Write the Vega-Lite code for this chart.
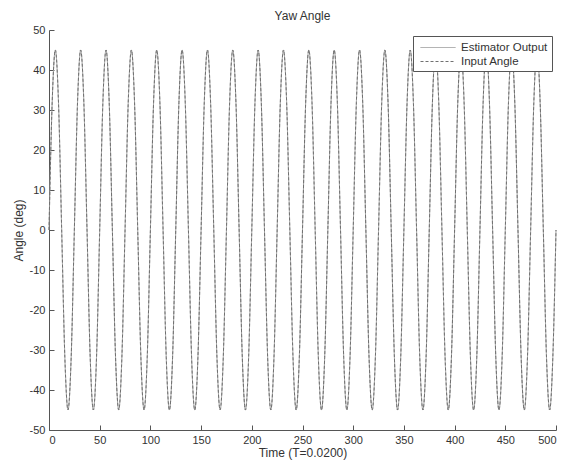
{
  "$schema": "https://vega.github.io/schema/vega-lite/v6.json",
  "width": 507,
  "height": 400,
  "autosize": {"type": "none"},
  "padding": {"left": 49, "top": 30, "right": 10, "bottom": 33},
  "background": "white",
  "title": {"text": "Yaw Angle", "fontSize": 12, "font": "Liberation Sans", "fontWeight": "normal", "color": "#333", "offset": 1, "anchor": "middle"},
  "data": {"values": [
    {"t":0,"e":0,"i":0},{"t":3.125,"e":31.82,"i":31.82},{"t":6.25,"e":45,"i":45},{"t":9.375,"e":31.82,"i":31.82},{"t":12.5,"e":0,"i":0},{"t":15.625,"e":-31.82,"i":-31.82},{"t":18.75,"e":-45,"i":-45},{"t":21.875,"e":-31.82,"i":-31.82},
    {"t":25,"e":0,"i":0},{"t":28.125,"e":31.82,"i":31.82},{"t":31.25,"e":45,"i":45},{"t":34.375,"e":31.82,"i":31.82},{"t":37.5,"e":0,"i":0},{"t":40.625,"e":-31.82,"i":-31.82},{"t":43.75,"e":-45,"i":-45},{"t":46.875,"e":-31.82,"i":-31.82},
    {"t":50,"e":0,"i":0},{"t":53.125,"e":31.82,"i":31.82},{"t":56.25,"e":45,"i":45},{"t":59.375,"e":31.82,"i":31.82},{"t":62.5,"e":0,"i":0},{"t":65.625,"e":-31.82,"i":-31.82},{"t":68.75,"e":-45,"i":-45},{"t":71.875,"e":-31.82,"i":-31.82},
    {"t":75,"e":0,"i":0},{"t":78.125,"e":31.82,"i":31.82},{"t":81.25,"e":45,"i":45},{"t":84.375,"e":31.82,"i":31.82},{"t":87.5,"e":0,"i":0},{"t":90.625,"e":-31.82,"i":-31.82},{"t":93.75,"e":-45,"i":-45},{"t":96.875,"e":-31.82,"i":-31.82},
    {"t":100,"e":0,"i":0},{"t":103.125,"e":31.82,"i":31.82},{"t":106.25,"e":45,"i":45},{"t":109.375,"e":31.82,"i":31.82},{"t":112.5,"e":0,"i":0},{"t":115.625,"e":-31.82,"i":-31.82},{"t":118.75,"e":-45,"i":-45},{"t":121.875,"e":-31.82,"i":-31.82},
    {"t":125,"e":0,"i":0},{"t":128.125,"e":31.82,"i":31.82},{"t":131.25,"e":45,"i":45},{"t":134.375,"e":31.82,"i":31.82},{"t":137.5,"e":0,"i":0},{"t":140.625,"e":-31.82,"i":-31.82},{"t":143.75,"e":-45,"i":-45},{"t":146.875,"e":-31.82,"i":-31.82},
    {"t":150,"e":0,"i":0},{"t":153.125,"e":31.82,"i":31.82},{"t":156.25,"e":45,"i":45},{"t":159.375,"e":31.82,"i":31.82},{"t":162.5,"e":0,"i":0},{"t":165.625,"e":-31.82,"i":-31.82},{"t":168.75,"e":-45,"i":-45},{"t":171.875,"e":-31.82,"i":-31.82},
    {"t":175,"e":0,"i":0},{"t":178.125,"e":31.82,"i":31.82},{"t":181.25,"e":45,"i":45},{"t":184.375,"e":31.82,"i":31.82},{"t":187.5,"e":0,"i":0},{"t":190.625,"e":-31.82,"i":-31.82},{"t":193.75,"e":-45,"i":-45},{"t":196.875,"e":-31.82,"i":-31.82},
    {"t":200,"e":0,"i":0},{"t":203.125,"e":31.82,"i":31.82},{"t":206.25,"e":45,"i":45},{"t":209.375,"e":31.82,"i":31.82},{"t":212.5,"e":0,"i":0},{"t":215.625,"e":-31.82,"i":-31.82},{"t":218.75,"e":-45,"i":-45},{"t":221.875,"e":-31.82,"i":-31.82},
    {"t":225,"e":0,"i":0},{"t":228.125,"e":31.82,"i":31.82},{"t":231.25,"e":45,"i":45},{"t":234.375,"e":31.82,"i":31.82},{"t":237.5,"e":0,"i":0},{"t":240.625,"e":-31.82,"i":-31.82},{"t":243.75,"e":-45,"i":-45},{"t":246.875,"e":-31.82,"i":-31.82},
    {"t":250,"e":0,"i":0},{"t":253.125,"e":31.82,"i":31.82},{"t":256.25,"e":45,"i":45},{"t":259.375,"e":31.82,"i":31.82},{"t":262.5,"e":0,"i":0},{"t":265.625,"e":-31.82,"i":-31.82},{"t":268.75,"e":-45,"i":-45},{"t":271.875,"e":-31.82,"i":-31.82},
    {"t":275,"e":0,"i":0},{"t":278.125,"e":31.82,"i":31.82},{"t":281.25,"e":45,"i":45},{"t":284.375,"e":31.82,"i":31.82},{"t":287.5,"e":0,"i":0},{"t":290.625,"e":-31.82,"i":-31.82},{"t":293.75,"e":-45,"i":-45},{"t":296.875,"e":-31.82,"i":-31.82},
    {"t":300,"e":0,"i":0},{"t":303.125,"e":31.82,"i":31.82},{"t":306.25,"e":45,"i":45},{"t":309.375,"e":31.82,"i":31.82},{"t":312.5,"e":0,"i":0},{"t":315.625,"e":-31.82,"i":-31.82},{"t":318.75,"e":-45,"i":-45},{"t":321.875,"e":-31.82,"i":-31.82},
    {"t":325,"e":0,"i":0},{"t":328.125,"e":31.82,"i":31.82},{"t":331.25,"e":45,"i":45},{"t":334.375,"e":31.82,"i":31.82},{"t":337.5,"e":0,"i":0},{"t":340.625,"e":-31.82,"i":-31.82},{"t":343.75,"e":-45,"i":-45},{"t":346.875,"e":-31.82,"i":-31.82},
    {"t":350,"e":0,"i":0},{"t":353.125,"e":31.82,"i":31.82},{"t":356.25,"e":45,"i":45},{"t":359.375,"e":31.82,"i":31.82},{"t":362.5,"e":0,"i":0},{"t":365.625,"e":-31.82,"i":-31.82},{"t":368.75,"e":-45,"i":-45},{"t":371.875,"e":-31.82,"i":-31.82},
    {"t":375,"e":0,"i":0},{"t":378.125,"e":31.82,"i":31.82},{"t":381.25,"e":45,"i":45},{"t":384.375,"e":31.82,"i":31.82},{"t":387.5,"e":0,"i":0},{"t":390.625,"e":-31.82,"i":-31.82},{"t":393.75,"e":-45,"i":-45},{"t":396.875,"e":-31.82,"i":-31.82},
    {"t":400,"e":0,"i":0},{"t":403.125,"e":31.82,"i":31.82},{"t":406.25,"e":45,"i":45},{"t":409.375,"e":31.82,"i":31.82},{"t":412.5,"e":0,"i":0},{"t":415.625,"e":-31.82,"i":-31.82},{"t":418.75,"e":-45,"i":-45},{"t":421.875,"e":-31.82,"i":-31.82},
    {"t":425,"e":0,"i":0},{"t":428.125,"e":31.82,"i":31.82},{"t":431.25,"e":45,"i":45},{"t":434.375,"e":31.82,"i":31.82},{"t":437.5,"e":0,"i":0},{"t":440.625,"e":-31.82,"i":-31.82},{"t":443.75,"e":-45,"i":-45},{"t":446.875,"e":-31.82,"i":-31.82},
    {"t":450,"e":0,"i":0},{"t":453.125,"e":31.82,"i":31.82},{"t":456.25,"e":45,"i":45},{"t":459.375,"e":31.82,"i":31.82},{"t":462.5,"e":0,"i":0},{"t":465.625,"e":-31.82,"i":-31.82},{"t":468.75,"e":-45,"i":-45},{"t":471.875,"e":-31.82,"i":-31.82},
    {"t":475,"e":0,"i":0},{"t":478.125,"e":31.82,"i":31.82},{"t":481.25,"e":45,"i":45},{"t":484.375,"e":31.82,"i":31.82},{"t":487.5,"e":0,"i":0},{"t":490.625,"e":-31.82,"i":-31.82},{"t":493.75,"e":-45,"i":-45},{"t":496.875,"e":-31.82,"i":-31.82},
    {"t":500,"e":0,"i":0}
  ]},
  "transform": [{"fold": ["e", "i"], "as": ["series", "angle"]}],
  "mark": {"type": "line", "strokeWidth": 1, "interpolate": "monotone"},
  "encoding": {
    "x": {"field": "t", "type": "quantitative", "scale": {"domain": [0, 500], "nice": false},
      "axis": {"values": [0,50,100,150,200,250,300,350,400,450,500], "title": "Time (T=0.0200)", "titlePadding": 2, "labelExpr": "toString(datum.value)"}},
    "y": {"field": "angle", "type": "quantitative", "scale": {"domain": [-50, 50], "nice": false},
      "axis": {"values": [-50,-40,-30,-20,-10,0,10,20,30,40,50], "title": "Angle (deg)", "titlePadding": 4, "labelExpr": "toString(datum.value)"}},
    "color": {"field": "series", "type": "nominal", "scale": {"domain": ["e", "i"], "range": ["#9a9a9a", "#707070"]}, "legend": {"labelExpr": "datum.label == 'e' ? 'Estimator Output' : 'Input Angle'"}},
    "strokeDash": {"field": "series", "type": "nominal", "scale": {"domain": ["e", "i"], "range": [[1, 0], [3, 2]]}, "legend": {"labelExpr": "datum.label == 'e' ? 'Estimator Output' : 'Input Angle'"}}
  },
  "config": {
    "view": {"stroke": null},
    "axis": {"labelFont": "Liberation Sans", "labelFontSize": 11, "labelColor": "#333", "titleFont": "Liberation Sans", "titleFontSize": 12, "titleFontWeight": "normal", "titleColor": "#333", "domainColor": "#555", "tickColor": "#555", "tickSize": -5, "labelPadding": 9, "grid": false},
    "legend": {"orient": "none", "legendX": 364, "legendY": 6, "title": null, "strokeColor": "#555", "fillColor": "white", "padding": 4, "labelFont": "Liberation Sans", "labelFontSize": 11.5, "labelColor": "#333", "symbolType": "M-2.5,0H2.5", "symbolSize": 196, "symbolStrokeWidth": 1, "symbolFillColor": "transparent", "rowPadding": 1, "labelOffset": 15.5, "symbolOffset": 13.5}
  }
}
